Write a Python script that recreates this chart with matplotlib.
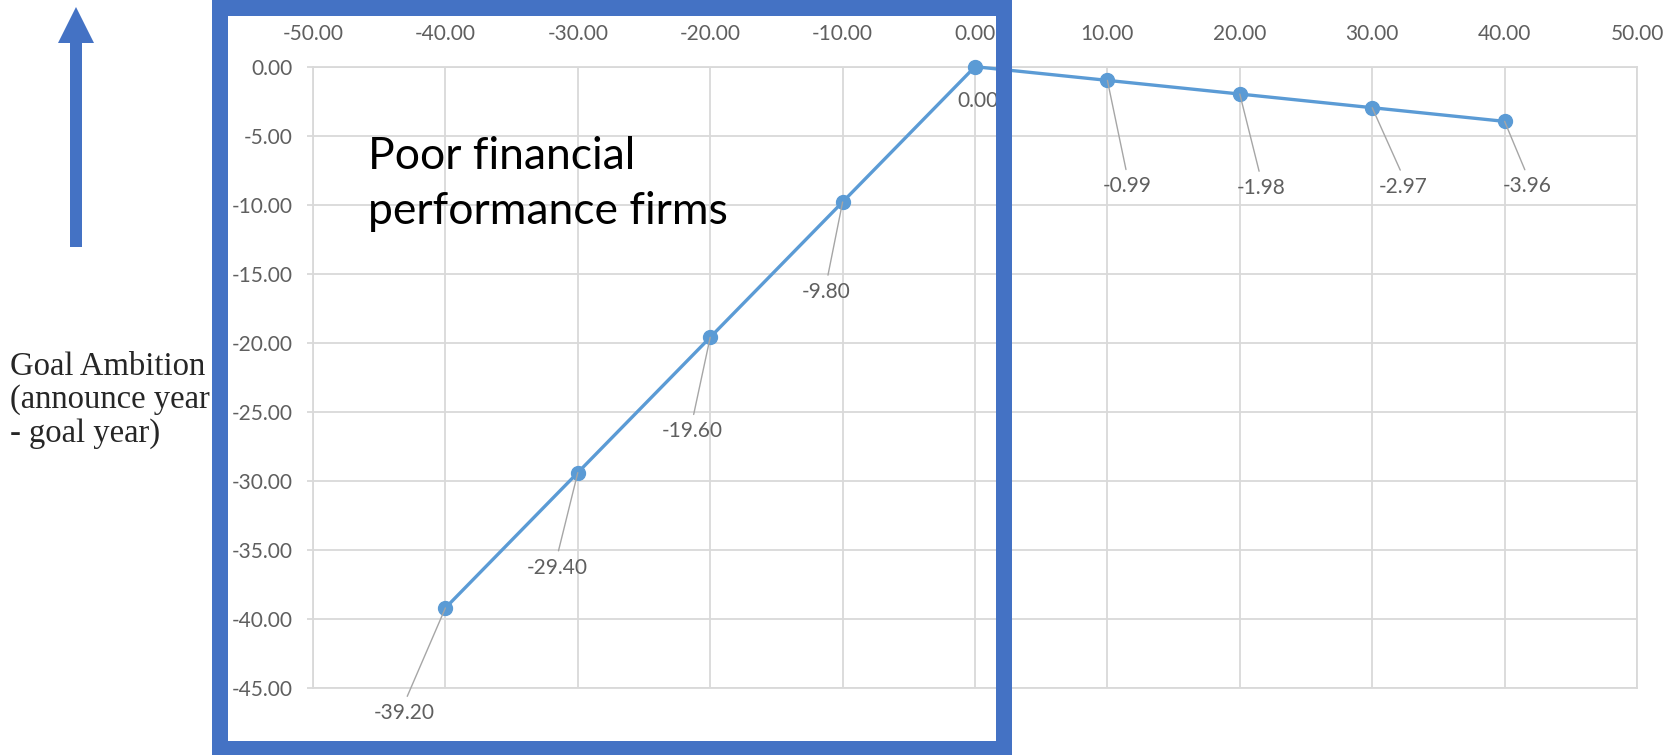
import matplotlib
matplotlib.use("Agg")
import matplotlib.pyplot as plt
from matplotlib.patches import FancyArrow, Rectangle
from matplotlib.ticker import FormatStrFormatter, MultipleLocator

# Series: change in financial performance vs. goal ambition
x_vals = [-40, -30, -20, -10, 0, 10, 20, 30, 40]
y_vals = [-39.20, -29.40, -19.60, -9.80, 0.00, -0.99, -1.98, -2.97, -3.96]

# Label offsets (pixels) from each point to its data label
label_dx = [-41, -21, -18, -16, 3, 20, 21, 31, 23]
label_dy = [-105, -95, -94, -90, -34, -106, -94, -79, -65]

y_axis_title = "Goal Ambition\n(announce year\n- goal year)"
box_title = "Poor financial\nperformance firms"

W, H, DPI = 1675, 755, 100
fig = plt.figure(figsize=(W / DPI, H / DPI), dpi=DPI)
fig.patch.set_facecolor("white")

ax = fig.add_axes([313 / W, 1 - 688 / H, (1637 - 313) / W, (688 - 66.7) / H])

grid_c = "#d9d9d9"
tick_c = "#5f5f5f"
line_c = "#5b9bd5"
font = "Lato"
label_size = 15

ax.set_xlim(-50, 50)
ax.set_ylim(-45, 0)
ax.xaxis.set_major_locator(MultipleLocator(10))
ax.yaxis.set_major_locator(MultipleLocator(5))
ax.xaxis.set_major_formatter(FormatStrFormatter("%.2f"))
ax.yaxis.set_major_formatter(FormatStrFormatter("%.2f"))
ax.xaxis.tick_top()
ax.grid(True, color=grid_c, lw=1.3, zorder=0)
ax.set_axisbelow(True)
for s in ax.spines.values():
    s.set_color(grid_c)
    s.set_linewidth(1.3)
ax.tick_params(axis="x", length=0, pad=16, labelsize=label_size, labelcolor=tick_c)
ax.tick_params(axis="y", length=4.5, width=1.3, color=grid_c, pad=10,
               labelsize=label_size, labelcolor=tick_c)
for lab in ax.get_xticklabels() + ax.get_yticklabels():
    lab.set_fontfamily(font)

ax.plot(x_vals, y_vals, color=line_c, lw=2.4, marker="o", markersize=10,
        zorder=3, clip_on=False)

for x, y, dx, dy in zip(x_vals, y_vals, label_dx, label_dy):
    show_leader = abs(dy) > 40
    ax.annotate(
        f"{y:.2f}", xy=(x, y), xytext=(dx, dy), textcoords="offset pixels",
        ha="center", va="center", fontsize=label_size, color=tick_c,
        family=font, zorder=4,
        arrowprops=dict(arrowstyle="-", color="#a6a6a6", lw=1.0,
                        shrinkA=3, shrinkB=0, relpos=(0.5, 1.0))
        if show_leader else None,
    )

fig.text(368 / W, 1 - 136 / H, box_title, ha="left", va="top",
         fontsize=32, family=font, color="black", linespacing=1.41)

fig.text(10 / W, 1 - 400 / H, y_axis_title, ha="left", va="center",
         fontsize=23.5, family="Liberation Serif", color="#262626",
         linespacing=1.12)

px = fig.dpi_scale_trans
fig.add_artist(Rectangle((220 / DPI, (H - 748.5) / DPI), (1004 - 220) / DPI,
                         (748.5 - 7.5) / DPI, transform=px, fill=False,
                         edgecolor="#4472c4", lw=16 * 72 / DPI, zorder=10))
fig.add_artist(FancyArrow(76 / DPI, (H - 247) / DPI, 0, 240 / DPI,
                          width=12 / DPI, head_width=36 / DPI,
                          head_length=36 / DPI, length_includes_head=True,
                          transform=px, color="#4472c4", lw=0, zorder=10))

fig.savefig("out.png", dpi=DPI)
